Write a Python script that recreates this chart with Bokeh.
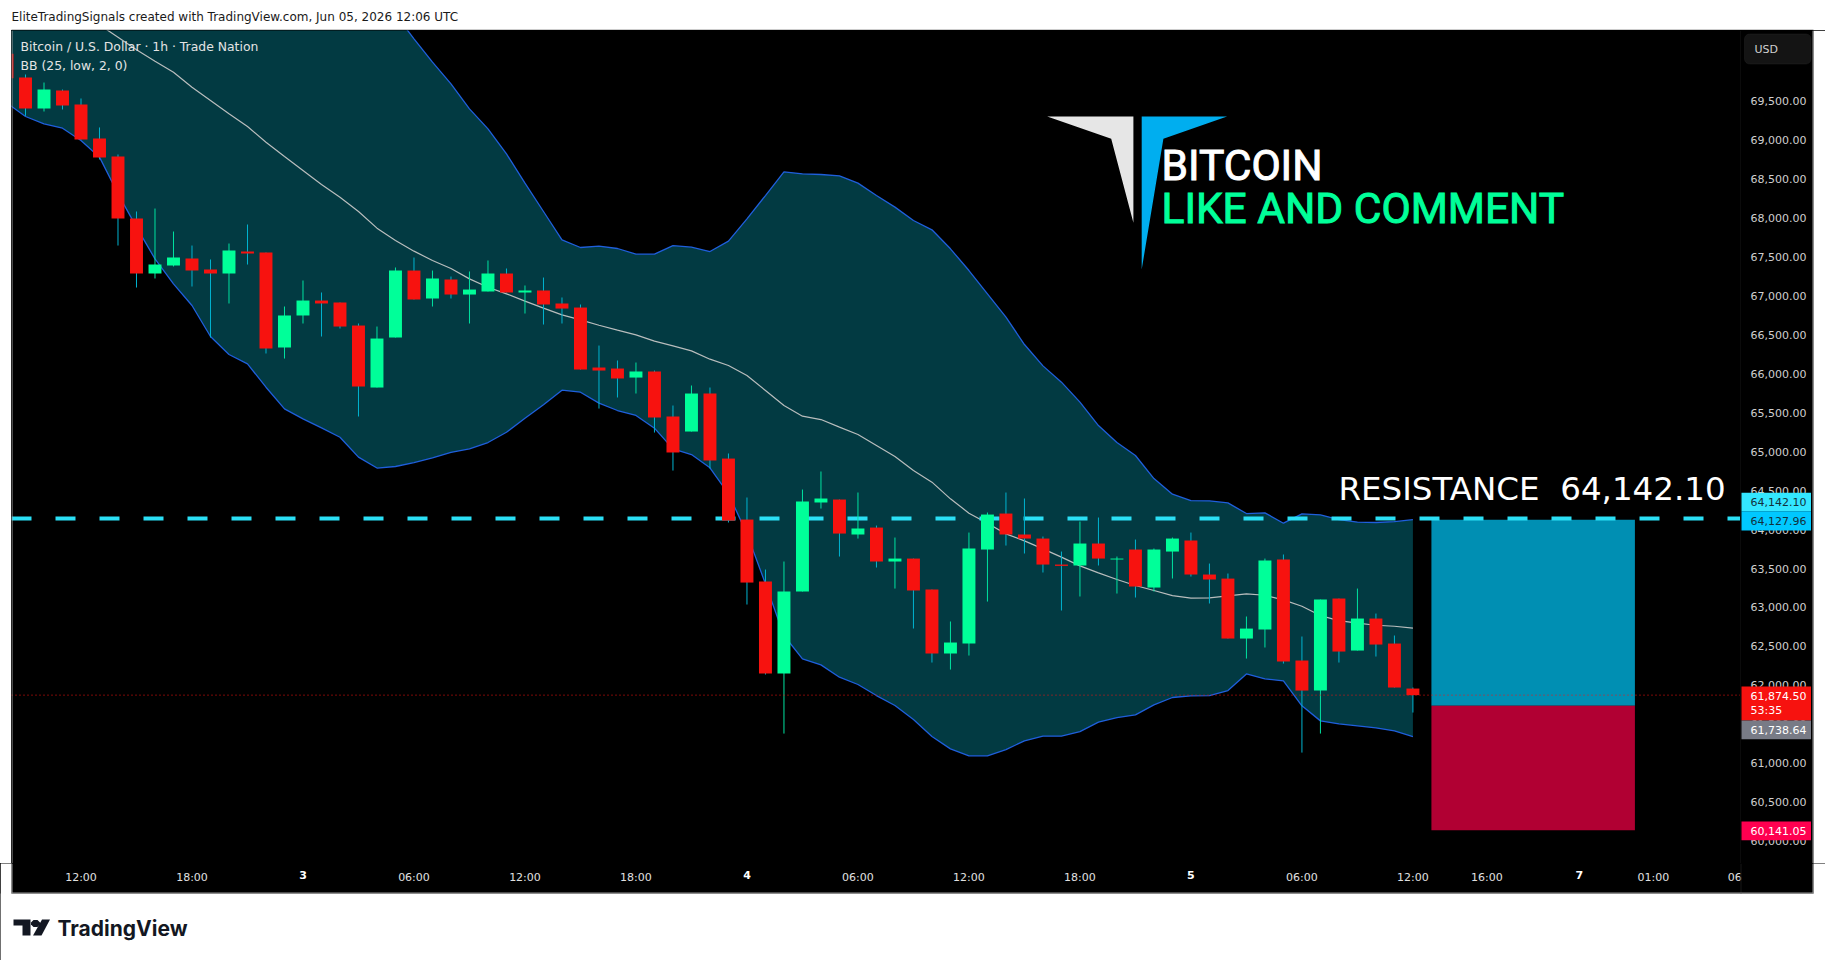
from bokeh.plotting import figure
from bokeh.layouts import column, row
from bokeh.models import (ColumnDataSource, FixedTicker, Label, BoxAnnotation, PolyAnnotation,
                          NumeralTickFormatter, LinearAxis, Range1d, Spacer)
from bokeh.embed import file_html
from bokeh.resources import INLINE

# ---- data -------------------------------------------------------------
hours = list(range(8, 85))
opens = [70108,69805,69406,69638,69458,69021,68790,67994,67288,67391,67480,67339,67288,67570,67558,66338,
         66749,66941,66916,66620,65824,66466,67326,66967,67211,67018,67057,67288,67044,67070,66903,66851,
         66081,66068,65952,66030,65452,65259,65747,64912,64129,63333,62152,63205,64348,64386,63937,64026,
         63590,63628,63230,62409,62537,63744,64206,63937,63885,63551,63539,63821,63616,63744,63256,63718,
         63860,63423,63371,62601,62717,63615,62319,61933,63115,62447,62858,62537,61959]
highs = [70150,69843,69740,69650,69535,69163,68816,68084,68122,67827,67647,67468,67673,67917,67558,66864,
         67198,67044,66916,66646,66607,67365,67493,67326,67249,67314,67455,67352,67134,67236,66980,66890,
         66363,66171,66145,66042,65593,65850,65824,64977,64412,63487,63590,64514,64746,64386,64476,64052,
         63898,63628,63230,62820,63962,64219,64476,64399,63911,63718,64104,64155,63654,63872,63757,63898,
         63962,63564,63436,62884,63628,63680,62627,63102,63115,63243,62922,62640,61972]
lows = [69770,69312,69368,69394,69008,68752,67647,67108,67224,67378,67121,66466,66903,67403,66261,66196,
        66646,66479,66582,65452,65824,66466,66954,66864,66967,66646,67057,67044,66774,66633,66646,66055,
        65554,65696,65747,65246,64758,65259,64784,64091,63038,62139,61381,63205,64270,63654,63885,63513,
        63243,62730,62293,62203,62383,63076,63795,63693,63449,62961,63141,63539,63179,63128,63205,63372,
        63397,63051,62601,62344,62486,62280,61137,61381,62293,62447,62370,61972,61651]
closes = [69796,69406,69650,69445,69008,68777,67994,67288,67403,67493,67326,67288,67583,67545,66325,66749,
          66941,66903,66607,65837,66453,67326,66954,67224,67018,67082,67288,67044,67070,66890,66838,66055,
          66042,65940,66030,65439,64990,65747,64887,64116,63320,62152,63205,64360,64399,63949,64014,63590,
          63628,63218,62409,62550,63757,64193,63937,63885,63551,63534,63821,63628,63628,63269,63744,63885,
          63423,63359,62601,62729,63603,62306,61933,63102,62434,62858,62524,61972,61874.5]
upper_band = [72985,72856,72650,72406,72266,72180,72333,72437,72552,72591,72483,72539,72428,72222,72120,72030,
              71798,71556,71350,71238,70950,70614,70301,70001,69723,69402,69145,68824,68448,68084,67720,67622,
              67639,67609,67536,67536,67647,67626,67570,67703,67990,68289,68593,68568,68559,68542,68448,68289,
              68140,67968,67849,67605,67326,67027,66727,66376,66102,65893,65636,65336,65118,64951,64655,64454,
              64373,64369,64343,64206,64215,64082,64202,64189,64129,64095,64091,64103,64127.96]
basis_band = [71230,71080,70930,70780,70631,70481,70322,70160,70014,69873,69680,69509,69338,69175,68974,68790,
              68610,68431,68268,68084,67870,67712,67575,67455,67352,67219,67112,67027,66933,66843,66757,66693,
              66624,66560,66500,66419,66359,66295,66188,66107,65978,65786,65593,65456,65413,65315,65221,65079,
              64938,64758,64609,64395,64211,64082,63945,63855,63753,63646,63534,63444,63359,63282,63218,63153,
              63119,63123,63149,63175,63157,63098,63016,62896,62832,62798,62772,62759,62734]
lower_band = [69475,69304,69210,69154,68996,68782,68311,67883,67476,67155,66877,66479,66248,66128,65828,65550,
              65422,65306,65186,64930,64790,64810,64860,64920,64990,65037,65118,65250,65430,65602,65790,65764,
              65623,65529,65465,65302,65037,64964,64793,64459,63945,63303,62640,62340,62263,62105,62011,61869,
              61741,61561,61343,61185,61095,61095,61176,61287,61347,61347,61407,61527,61587,61621,61750,61844,
              61865,61869,61933,62147,62083,62057,61737,61544,61505,61480,61454,61415,61343]

resistance = 64142.10
last_price = 61874.50
target_price = 64127.96
entry_price = 61738.64
stop_price = 60141.05
position_start, position_end = 85, 96

price_ticks = list(range(60000, 69501, 500))
time_ticks = [12, 18, 30, 36, 42, 54, 60, 66, 78, 84, 88, 97, 101.4]
time_labels = ["12:00", "18:00", "06:00", "12:00", "18:00", "06:00", "12:00", "18:00", "06:00", "12:00",
               "16:00", "01:00", "06"]
day_ticks = [24, 48, 72, 93]
day_labels = ["3", "4", "5", "7"]

# ---- style ------------------------------------------------------------
UP, DOWN = "#00ff99", "#f7120f"
WICK_UP, WICK_DOWN = "#00e3a0", "#00b4d0"
BAND = "#1f5fdc"
FILL = "#023a42"
FONT = "DejaVu Sans"
EDGE = "#9a9a9a"

X0, X1 = 8.243, 101.708

def bare(w, h, x_range, y_range, bg):
    f = figure(width=w, height=h, x_range=x_range, y_range=y_range,
               x_axis_location=None, y_axis_location=None, toolbar_location=None, output_backend="svg",
               min_border=0, min_border_left=0, min_border_right=0, min_border_top=0, min_border_bottom=0,
               background_fill_color=bg, border_fill_color=bg, outline_line_color=None,
               styles={"background-color": bg})
    f.grid.visible = False
    return f

def box(f, org, x0, y0, x1, y1, fill, line=None, level="annotation", radius=0):
    f.add_layout(BoxAnnotation(left=x0 - org[0], right=x1 - org[0], top=y0 - org[1], bottom=y1 - org[1],
                               left_units="canvas", right_units="canvas", top_units="canvas",
                               bottom_units="canvas", fill_color=fill, fill_alpha=1, line_color=line,
                               line_width=1, level=level, border_radius=radius))

def text(f, org, s, x, y, color, size, font=FONT, weight="normal", outline=None):
    f.add_layout(Label(x=x - org[0], y=y - org[1], x_units="canvas", y_units="canvas", text=s,
                       text_color=color, text_font_size=size, text_font=font, text_align="left",
                       text_baseline="middle", text_font_style=weight, text_outline_color=outline))

def poly(f, org, xs, ys, color):
    f.add_layout(PolyAnnotation(xs=[x - org[0] for x in xs], ys=[y - org[1] for y in ys],
                                xs_units="canvas", ys_units="canvas",
                                fill_color=color, fill_alpha=1, line_color=None))

y_range = Range1d(59700, 70408)

# ---- header -------------------------------------------------------------
header = bare(1825, 30, Range1d(0, 1825), Range1d(30, 0), "white")
H = (0, 0)
text(header, H, "EliteTradingSignals created with TradingView.com, Jun 05, 2026 12:06 UTC", 11, 16.5, "#1a1a1a", "12px")
box(header, H, 11, 29, 1813, 30, EDGE)

# ---- main chart -------------------------------------------------------------
main = bare(1729, 834, Range1d(X0, X1), y_range, "black")
M = (11, 30)
src = ColumnDataSource(dict(x=hours, o=opens, h=highs, l=lows, c=closes,
                            up=upper_band, mid=basis_band, lo=lower_band))

main.varea(x="x", y1="up", y2="lo", source=src, fill_color=FILL)
main.line(x="x", y="up", source=src, line_color=BAND, line_width=1.3)
main.line(x="x", y="lo", source=src, line_color=BAND, line_width=1.3)
main.line(x="x", y="mid", source=src, line_color="#b9bdbd", line_width=1.2)

main.quad(left=[position_start], right=[position_end], top=[target_price], bottom=[entry_price],
          fill_color="#008fb3", line_color=None)
main.quad(left=[position_start], right=[position_end], top=[entry_price], bottom=[stop_price],
          fill_color="#b10033", line_color=None)

main.line(x=[X0, X1], y=[resistance, resistance], line_color="#2bdff5", line_width=4, line_dash="20 24")

up_idx = [i for i in range(len(hours)) if closes[i] >= opens[i]]
dn_idx = [i for i in range(len(hours)) if closes[i] < opens[i]]
def pick(a, idx):
    return [a[i] for i in idx]
for idx, col, wick in ((up_idx, UP, WICK_UP), (dn_idx, DOWN, WICK_DOWN)):
    x = pick(hours, idx)
    main.segment(x0=x, x1=x, y0=pick(highs, idx), y1=pick(lows, idx), line_color=wick, line_width=1)
    main.vbar(x=x, width=0.7, top=[max(opens[i], closes[i]) for i in idx],
              bottom=[min(opens[i], closes[i]) for i in idx], fill_color=col, line_color=None)

main.line(x=[X0, X1], y=[last_price, last_price], line_color="#f7120f", line_width=1, line_dash="1 3")

text(main, M, "Bitcoin / U.S. Dollar \u00b7 1h \u00b7 Trade Nation", 20, 45.5, "#e4e4e4", "12.4px")
text(main, M, "BB (25, low, 2, 0)", 20, 64.5, "#e4e4e4", "12.4px")
text(main, M, "BITCOIN", 1161, 165, "#ffffff", "42.5px", font="Roboto", outline="#ffffff")
text(main, M, "LIKE AND COMMENT", 1161, 208, "#00ff99", "42.5px", font="Roboto", outline="#00ff99")
text(main, M, "RESISTANCE\u00a0\u00a064,142.10", 1338, 488, "#ffffff", "32.5px")
poly(main, M, [1046.7, 1132.9, 1132.9, 1110.7], [116, 116, 222.3, 138.3], "#e6e6e6")
poly(main, M, [1141.2, 1226.6, 1162.9, 1141.2], [116, 116, 138.3, 269], "#00aeef")
box(main, M, 11, 30, 12, 864, EDGE)

# ---- price axis panel -------------------------------------------------------
side = bare(85, 834, Range1d(1740, 1825), y_range, "black")
S = (1740, 30)
yaxis = LinearAxis(fixed_location=1740, ticker=FixedTicker(ticks=price_ticks),
                   formatter=NumeralTickFormatter(format="0,0.00"))
yaxis.major_tick_line_color = None
yaxis.minor_tick_line_color = None
yaxis.axis_line_color = "#161616"
yaxis.major_label_text_color = "#cfcfcf"
yaxis.major_label_text_font = FONT
yaxis.major_label_text_font_size = "11px"
yaxis.major_label_standoff = 4
side.add_layout(yaxis, "right")

box(side, S, 1744, 33.5, 1810.5, 63.5, "#141414", "#333333", radius=5)
text(side, S, "USD", 1754, 48.5, "#d0d0d0", "11px")
for (y0, y1, col, txt, tcol) in ((492.3, 510.7, "#33e6ff", "64,142.10", "#12303a"),
                                 (510.7, 530, "#00c8ff", "64,127.96", "#12303a"),
                                 (686, 720, "#f7120f", "61,874.50", "#ffffff"),
                                 (720, 738.7, "#787b86", "61,738.64", "#ffffff"),
                                 (821, 839.7, "#ff0050", "60,141.05", "#ffffff")):
    box(side, S, 1741, y0, 1810.5, y1, col)
    text(side, S, txt, 1750, (y0 + y1) / 2 if col != "#f7120f" else 695, tcol, "11px")
text(side, S, "53:35", 1750, 710, "#ffffff", "11px")
box(side, S, 1813, 30, 1825, 864, "white")
box(side, S, 1812, 30, 1813, 864, EDGE)

# ---- time axis panel + footer: black base, white areas laid over it ---------
foot = bare(1825, 97, Range1d(7.648, 106.303), Range1d(960, 863), "black")
foot.styles = {"background-color": "black", "margin-top": "-1px"}
F = (0, 863)
box(foot, F, 0, 861, 11, 960, "white", level="underlay")
box(foot, F, 1813, 861, 1825, 960, "white", level="underlay")
box(foot, F, 0, 893, 1825, 960, "white", level="underlay")

def time_axis(ticks, labels, color, weight):
    a = LinearAxis(fixed_location=863, ticker=FixedTicker(ticks=ticks),
                   major_label_overrides=dict(zip(ticks, labels)))
    a.major_tick_line_color = None
    a.minor_tick_line_color = None
    a.axis_line_color = None
    a.major_label_text_color = color
    a.major_label_text_font = FONT
    a.major_label_text_font_size = "11px"
    a.major_label_text_font_style = weight
    a.major_label_standoff = 1
    foot.add_layout(a, "below")

time_axis(time_ticks, time_labels, "#e0e0e0", "normal")
time_axis(day_ticks, day_labels, "#ffffff", "bold")

box(foot, F, 1740, 863, 1741, 893, "#161616")
box(foot, F, 11, 863, 12, 893, EDGE)
box(foot, F, 1812, 863, 1813, 893, EDGE)
box(foot, F, 11, 892, 1813, 893, EDGE)

poly(foot, F, [13, 30, 30, 22, 22, 13], [919, 919, 935, 935, 925, 925], "#131722")
poly(foot, F, [33, 37, 39.5, 39.5, 37, 33, 30.5, 30.5], [919.5, 919.5, 922, 924, 926.5, 926.5, 924, 922], "#131722")
poly(foot, F, [41.5, 49.5, 41, 32.5], [919, 919, 935, 935], "#131722")
text(foot, F, "TradingView", 57, 927.5, "#131722", "21px", font="Inter", weight="bold")

chart_row = row(Spacer(width=11, height=834), main, side, spacing=0)
page = column(header, chart_row, foot, spacing=0)
open("out.html", "w").write(file_html(page, INLINE))
